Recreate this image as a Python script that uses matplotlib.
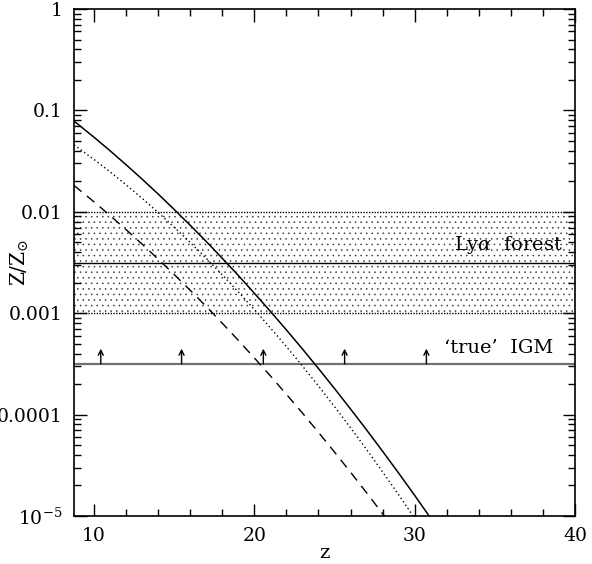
import matplotlib
matplotlib.use("Agg")
import matplotlib.pyplot as plt
import numpy as np
from matplotlib.ticker import FixedLocator, MultipleLocator, NullFormatter

plt.rcParams['font.family'] = ['DejaVu Serif']
plt.rcParams['mathtext.fontset'] = 'dejavuserif'
plt.rcParams['hatch.linewidth'] = 0.35

# curves: redshift and log10(Z/Zsun)
z_solid = [8.75, 10, 11, 12, 13, 14, 15, 16, 17, 18, 19, 20, 21, 22, 23, 24, 25, 26, 27, 28, 29, 30, 31, 31.5]
logZ_solid = [-1.105, -1.265, -1.398, -1.536, -1.678, -1.825, -1.977, -2.133, -2.293, -2.459, -2.628,
              -2.803, -2.982, -3.165, -3.353, -3.546, -3.743, -3.945, -4.151, -4.362, -4.577, -4.797,
              -5.022, -5.14]

z_dotted = [8.75, 10, 11, 12, 13, 14, 15, 16, 17, 18, 19, 20, 21, 22, 23, 24, 25, 26, 27, 28, 29, 30, 30.5]
logZ_dotted = [-1.34, -1.484, -1.606, -1.734, -1.867, -2.007, -2.152, -2.303, -2.459, -2.622, -2.790,
               -2.964, -3.144, -3.330, -3.521, -3.718, -3.921, -4.130, -4.344, -4.565, -4.791, -5.023,
               -5.14]

z_dashed = [8.75, 10, 11, 12, 13, 14, 15, 16, 17, 18, 19, 20, 21, 22, 23, 24, 25, 26, 27, 28, 28.5]
logZ_dashed = [-1.74, -1.902, -2.037, -2.176, -2.319, -2.467, -2.618, -2.774, -2.934, -3.099, -3.268,
               -3.441, -3.618, -3.800, -3.985, -4.175, -4.370, -4.568, -4.771, -4.978, -5.08]

lya_low, lya_high, lya_mid = 1e-3, 1e-2, 10**-2.5
igm_level = 10**-3.5
arrow_z = [10.42, 15.46, 20.56, 25.63, 30.73]
arrow_top = 10**-3.35

ytick_vals = [1e-5, 1e-4, 1e-3, 1e-2, 1e-1, 1]
ytick_labels = [r'$10^{-5}$', '0.0001', '0.001', '0.01', '0.1', '1']
xtick_vals = [10, 20, 30, 40]
xtick_labels = ['10', '20', '30', '40']

W, H = 592, 564
fig = plt.figure(figsize=(W/100, H/100), dpi=100)
ax = fig.add_axes([74/W, 1-516/H, (575-74)/W, (516-9)/H])
ax.set_yscale('log')
ax.set_xlim(8.75, 40)
ax.set_ylim(1e-5, 1)

# Ly alpha forest band
ax.fill_between([8.75, 40], lya_low, lya_high, facecolor='none', edgecolor='#303030',
                hatch='...', linewidth=0)
ax.axhline(lya_high, color='black', lw=1.0, ls=(0, (1, 1)))
ax.axhline(lya_low, color='black', lw=1.0, ls=(0, (1, 1)))
ax.axhline(lya_mid, color='black', lw=1.0)

# true IGM
ax.axhline(igm_level, color='#707070', lw=1.6)
for za in arrow_z:
    ax.annotate('', xy=(za, arrow_top), xytext=(za, igm_level),
                arrowprops=dict(arrowstyle='->', color='black', lw=1.0,
                                shrinkA=0, shrinkB=0, mutation_scale=9))

ax.plot(z_solid, 10**np.array(logZ_solid), color='black', lw=1.1)
ax.plot(z_dotted, 10**np.array(logZ_dotted), color='black', lw=1.0, ls=(0, (1, 2)))
ax.plot(z_dashed, 10**np.array(logZ_dashed), color='black', lw=1.0, ls=(0, (7, 5)))

fig.text(563/W, 1-245/H, r'Ly$\alpha$  forest', ha='right', va='center', fontsize=14)
fig.text(553/W, 1-348/H, "\u2018true\u2019  IGM", ha='right', va='center', fontsize=14)

# ticks
ax.yaxis.set_major_locator(FixedLocator(ytick_vals))
ax.set_yticklabels(ytick_labels)
minors = [m * 10.0**e for e in range(-5, 0) for m in range(2, 10)]
ax.yaxis.set_minor_locator(FixedLocator(minors))
ax.yaxis.set_minor_formatter(NullFormatter())
ax.xaxis.set_major_locator(FixedLocator(xtick_vals))
ax.set_xticklabels(xtick_labels)
ax.xaxis.set_minor_locator(MultipleLocator(2))
ax.tick_params(which='both', direction='in', top=True, right=True, width=1.0, labelsize=13.5)
ax.tick_params(which='major', length=9)
ax.tick_params(which='minor', length=5)
ax.tick_params(axis='x', pad=8)
ax.tick_params(axis='y', pad=8)
for s in ax.spines.values():
    s.set_linewidth(1.2)

fig.text(324.5/W, 1-553/H, 'z', ha='center', va='center', fontsize=14)
fig.text(20/W, 1-262/H, r'Z/Z$_{\odot}$', ha='center', va='center', rotation=90, fontsize=14.5)

fig.savefig('out.png', dpi=100)
